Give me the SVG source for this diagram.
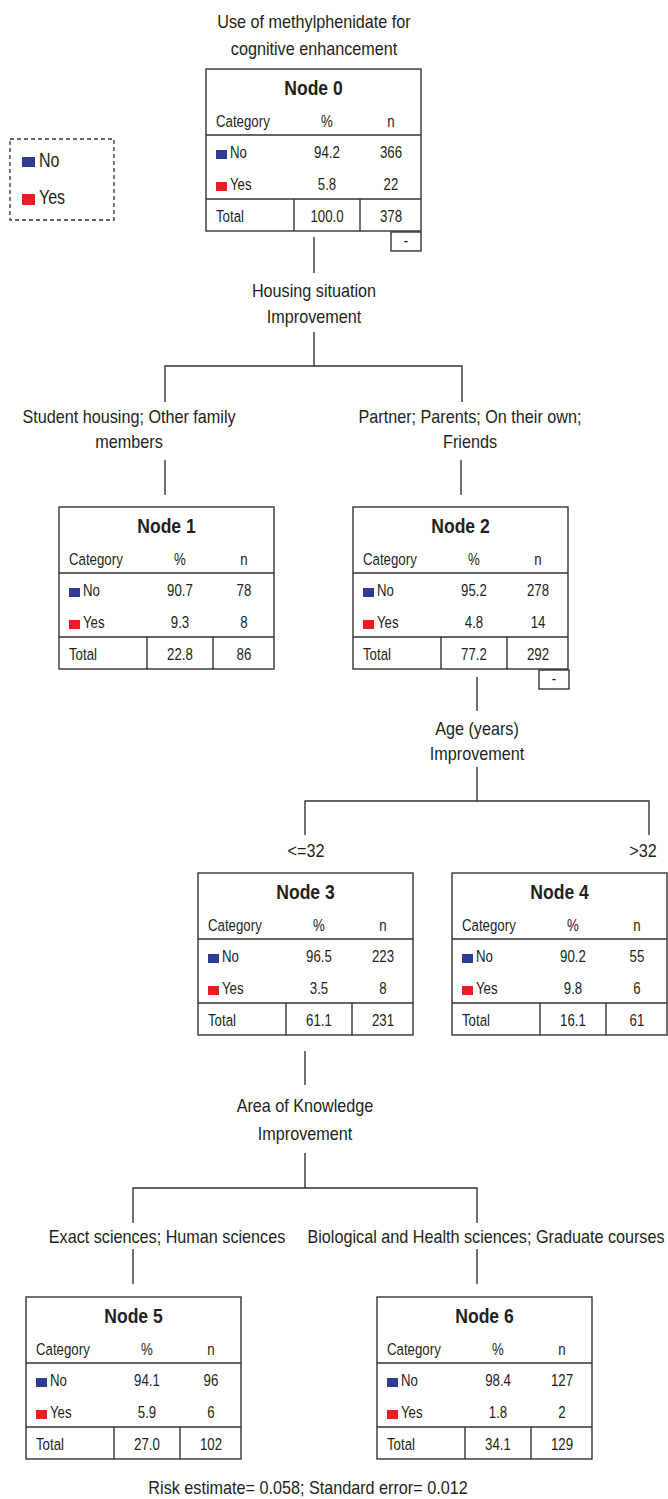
<svg xmlns="http://www.w3.org/2000/svg" width="668" height="1499" viewBox="0 0 668 1499">
<style>
text{font-family:"Liberation Sans",Arial,sans-serif;fill:#231f20;transform-box:fill-box}
.lbl{font-size:18.5px;text-anchor:middle;transform-origin:center;transform:scaleX(0.875)}
.t{font-size:17px;transform-origin:0% 50%;transform:scaleX(0.78)}
.c{text-anchor:middle;transform-origin:center}
.ttl{font-size:19.5px;font-weight:bold;text-anchor:middle;transform-origin:center;transform:scaleX(0.9)}
.box{fill:#fff;stroke:#333;stroke-width:1.4}
.ln{stroke:#333;stroke-width:1.4;fill:none}
.no{fill:#2e3a94}
.yes{fill:#ed1c24}
.leg{font-size:19.5px;transform-origin:0% 50%;transform:scaleX(0.82)}
</style>
<defs>
<g id="tbl">
<rect class="box" x="0" y="0" width="215" height="162"/>
<line class="ln" x1="0" y1="66" x2="215" y2="66"/>
<line class="ln" x1="0" y1="130" x2="215" y2="130"/>
<line class="ln" x1="88" y1="130" x2="88" y2="162"/>
<line class="ln" x1="154" y1="130" x2="154" y2="162"/>
<text class="t" x="10" y="58">Category</text>
<text class="t c" x="121" y="58">%</text>
<text class="t c" x="185" y="58">n</text>
<rect class="no" x="10" y="81" width="11" height="9"/>
<text class="t" x="24" y="89">No</text>
<rect class="yes" x="10" y="113" width="11" height="9"/>
<text class="t" x="24" y="121">Yes</text>
<text class="t" x="10" y="153">Total</text>
</g>
<g id="minus">
<rect class="box" x="0" y="0" width="30" height="19"/>
<text class="t c" x="15" y="14">-</text>
</g>
</defs>

<g id="title">
<text class="lbl" x="314" y="28">Use of methylphenidate for</text>
<text class="lbl" x="314" y="55">cognitive enhancement</text>
</g>

<g id="legend">
<rect x="10" y="139" width="104" height="81" fill="none" stroke="#333" stroke-width="1.3" stroke-dasharray="4,3"/>
<rect class="no" x="22" y="157" width="13" height="10"/>
<text class="leg" x="39" y="167">No</text>
<rect class="yes" x="22" y="194" width="13" height="11"/>
<text class="leg" x="39" y="204">Yes</text>
</g>

<g id="connectors">
<line class="ln" x1="314" y1="237" x2="314" y2="273"/>
<line class="ln" x1="314" y1="332" x2="314" y2="366"/>
<polyline class="ln" points="165,402 165,366 462,366 462,402"/>
<line class="ln" x1="165" y1="460" x2="165" y2="495"/>
<line class="ln" x1="461" y1="460" x2="461" y2="495"/>
<line class="ln" x1="477" y1="677" x2="477" y2="711"/>
<line class="ln" x1="477" y1="767" x2="477" y2="801"/>
<polyline class="ln" points="305,835 305,801 649,801 649,835"/>
<line class="ln" x1="305" y1="1051" x2="305" y2="1085"/>
<line class="ln" x1="305" y1="1153" x2="305" y2="1188"/>
<polyline class="ln" points="133,1223 133,1188 477,1188 477,1223"/>
<line class="ln" x1="133" y1="1249" x2="133" y2="1284"/>
<line class="ln" x1="477" y1="1249" x2="477" y2="1284"/>
<text class="lbl" x="314" y="297">Housing situation</text>
<text class="lbl" x="314" y="323">Improvement</text>
<text class="lbl" x="129" y="423">Student housing; Other family</text>
<text class="lbl" x="129" y="448">members</text>
<text class="lbl" x="470" y="423">Partner; Parents; On their own;</text>
<text class="lbl" x="470" y="448">Friends</text>
<text class="lbl" x="477" y="735">Age (years)</text>
<text class="lbl" x="477" y="760">Improvement</text>
<text class="lbl" x="306" y="857">&lt;=32</text>
<text class="lbl" x="643" y="857">&gt;32</text>
<text class="lbl" x="305" y="1112">Area of Knowledge</text>
<text class="lbl" x="305" y="1140">Improvement</text>
<text class="lbl" x="167" y="1243">Exact sciences; Human sciences</text>
<text class="lbl" x="486" y="1243">Biological and Health sciences; Graduate courses</text>
</g>

<g id="node0" transform="translate(206,69)">
<use href="#tbl"/>
<text class="ttl" x="107.5" y="26">Node 0</text>
<text class="t c" x="121" y="89">94.2</text><text class="t c" x="185" y="89">366</text>
<text class="t c" x="121" y="121">5.8</text><text class="t c" x="185" y="121">22</text>
<text class="t c" x="121" y="153">100.0</text><text class="t c" x="185" y="153">378</text>
<use href="#minus" x="185" y="163"/>
</g>

<g id="node1" transform="translate(59,507)">
<use href="#tbl"/>
<text class="ttl" x="107.5" y="26">Node 1</text>
<text class="t c" x="121" y="89">90.7</text><text class="t c" x="185" y="89">78</text>
<text class="t c" x="121" y="121">9.3</text><text class="t c" x="185" y="121">8</text>
<text class="t c" x="121" y="153">22.8</text><text class="t c" x="185" y="153">86</text>
</g>

<g id="node2" transform="translate(353,507)">
<use href="#tbl"/>
<text class="ttl" x="107.5" y="26">Node 2</text>
<text class="t c" x="121" y="89">95.2</text><text class="t c" x="185" y="89">278</text>
<text class="t c" x="121" y="121">4.8</text><text class="t c" x="185" y="121">14</text>
<text class="t c" x="121" y="153">77.2</text><text class="t c" x="185" y="153">292</text>
<use href="#minus" x="186" y="163"/>
</g>

<g id="node3" transform="translate(198,873)">
<use href="#tbl"/>
<text class="ttl" x="107.5" y="26">Node 3</text>
<text class="t c" x="121" y="89">96.5</text><text class="t c" x="185" y="89">223</text>
<text class="t c" x="121" y="121">3.5</text><text class="t c" x="185" y="121">8</text>
<text class="t c" x="121" y="153">61.1</text><text class="t c" x="185" y="153">231</text>
</g>

<g id="node4" transform="translate(452,873)">
<use href="#tbl"/>
<text class="ttl" x="107.5" y="26">Node 4</text>
<text class="t c" x="121" y="89">90.2</text><text class="t c" x="185" y="89">55</text>
<text class="t c" x="121" y="121">9.8</text><text class="t c" x="185" y="121">6</text>
<text class="t c" x="121" y="153">16.1</text><text class="t c" x="185" y="153">61</text>
</g>

<g id="node5" transform="translate(26,1297)">
<use href="#tbl"/>
<text class="ttl" x="107.5" y="26">Node 5</text>
<text class="t c" x="121" y="89">94.1</text><text class="t c" x="185" y="89">96</text>
<text class="t c" x="121" y="121">5.9</text><text class="t c" x="185" y="121">6</text>
<text class="t c" x="121" y="153">27.0</text><text class="t c" x="185" y="153">102</text>
</g>

<g id="node6" transform="translate(377,1297)">
<use href="#tbl"/>
<text class="ttl" x="107.5" y="26">Node 6</text>
<text class="t c" x="121" y="89">98.4</text><text class="t c" x="185" y="89">127</text>
<text class="t c" x="121" y="121">1.8</text><text class="t c" x="185" y="121">2</text>
<text class="t c" x="121" y="153">34.1</text><text class="t c" x="185" y="153">129</text>
</g>

<g id="footer">
<text class="lbl" x="308" y="1494">Risk estimate= 0.058; Standard error= 0.012</text>
</g>
</svg>
